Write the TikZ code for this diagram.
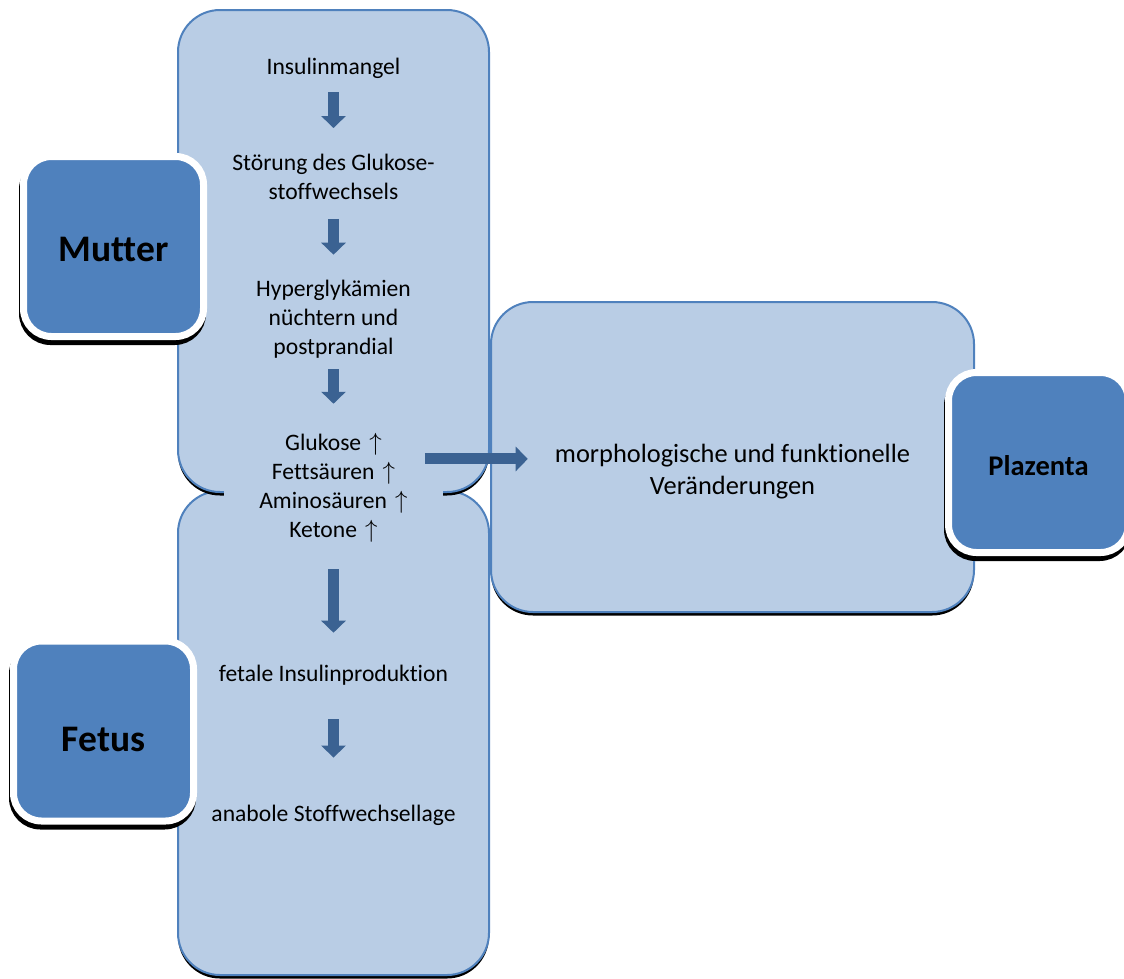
\documentclass[tikz,border=0pt]{standalone}
\usepackage{fontspec}
\setmainfont{Carlito}[Ligatures=NoCommon]
\usetikzlibrary{arrows.meta,positioning,calc}
\definecolor{accent}{RGB}{79,129,189}
\definecolor{pale}{RGB}{185,205,229}
\definecolor{darrow}{RGB}{59,98,146}
\newcommand{\hoch}{\ \hspace{0.12em}$\uparrow$}
\tikzset{
  panel/.style={draw=accent,line width=2pt,fill=pale,rounded corners=42pt,
    preaction={fill=black,transform canvas={yshift=-3.5pt}}},
  badge/.style={draw=white,line width=7pt,fill=accent,rounded corners=28pt,
    minimum width=180pt,minimum height=180pt,
    preaction={draw=black,fill=black,transform canvas={shift={(-1pt,-5pt)}}}},
  badgetxt/.style={font=\fontsize{37.5}{44}\selectfont\bfseries},
  txt/.style={font=\fontsize{23.6}{29}\selectfont,align=center,inner sep=0pt},
  bigtxt/.style={txt,font=\fontsize{26.4}{32}\selectfont},
  blockarr/.style={draw=darrow,line width=11pt,-{Triangle[width=24pt,length=12pt]}},
}
\begin{document}
\begin{tikzpicture}[x=1pt,y=-1pt]
  \useasboundingbox (0,0) rectangle (1124,978);
  % panels
  \node[panel,minimum width=483pt,minimum height=310pt] (plbox) at (732.5,457) {};
  \node[panel,minimum width=311pt,minimum height=484pt] (febox) at (333.5,733) {};
  \node[panel,minimum width=311pt,minimum height=482pt] (mubox) at (333.5,251) {};
  \fill[pale] (224,478) rectangle (443,506);
  % badges
  \node[badge,label={[badgetxt,yshift=-2.5pt]center:Mutter}] (mutter) at (113.5,246.5) {};
  \node[badge,label={[badgetxt,yshift=-8pt]center:Fetus}] (fetus) at (103.5,731) {};
  \node[badge,label={[badgetxt,font=\fontsize{28.5}{34}\selectfont\bfseries,yshift=-3.5pt]center:Plazenta}] (plazenta) at (1038.5,462.5) {};
  % chain of texts
  \node[txt] (ins) at (333.5,68) {Insulinmangel};
  \node[txt] (stoer) at (333.5,177) {Störung des Glukose-\\stoffwechsels};
  \node[txt] (hyp) at (333.5,319) {Hyperglykämien\\nüchtern und\\postprandial};
  \node[txt] (glu) at (333.5,487.5) {Glukose\hoch\\Fettsäuren\hoch\\Aminosäuren\hoch\\Ketone\hoch};
  \node[txt] (fet) at (333.5,675) {fetale Insulinproduktion};
  \node[txt] (ana) at (333.5,815) {anabole Stoffwechsellage};
  \node[bigtxt] (morph) at (732.5,472) {morphologische und funktionelle\\Veränderungen};
  % arrows
  \draw[blockarr,shorten <=14pt,shorten >=26pt] (ins) -- (stoer);
  \draw[blockarr,shorten <=19pt,shorten >=25pt] (stoer) -- (hyp);
  \draw[blockarr,shorten <=11pt,shorten >=29pt] (hyp) -- (glu);
  \draw[blockarr,shorten <=27pt,shorten >=32pt] (glu) -- (fet);
  \draw[blockarr,shorten <=34pt,shorten >=47pt] (fet) -- (ana);
  \draw[blockarr,shorten <=17pt,shorten >=27pt] (glu.21) -- (glu.21 -| morph.west);
\end{tikzpicture}
\end{document}
